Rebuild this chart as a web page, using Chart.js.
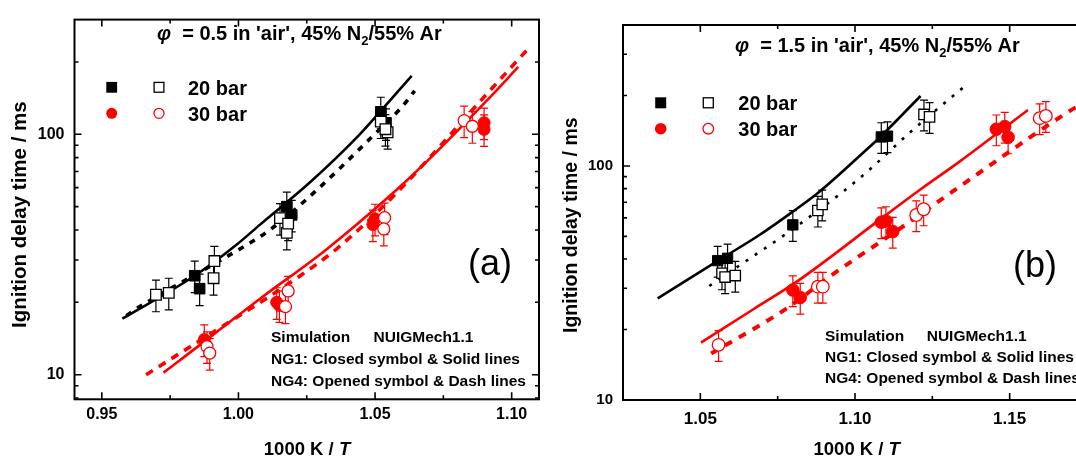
<!DOCTYPE html>
<html>
<head>
<meta charset="utf-8">
<title>Ignition delay time</title>
<script src="https://cdn.jsdelivr.net/npm/chart.js@4.4.1/dist/chart.umd.min.js"></script>
<style>
    html, body { margin: 0; padding: 0; background: #ffffff; overflow: hidden; }
    body { width: 1076px; height: 457px; position: relative; }
    canvas { position: absolute; top: 0; }
    #grafica_a { left: 0; }
    #grafica_b { left: 555px; }
</style>
</head>
<body>
<canvas id="grafica_a" width="555" height="457"></canvas>
<canvas id="grafica_b" width="545" height="457"></canvas>
<script>
var FAMILIA = '"Liberation Sans", Arial, Helvetica, sans-serif';
var ERROR_REL = 0.15;

// ---- panel (a), phi = 0.5 ----
var a_x_ticks = [0.95, 1.00, 1.05, 1.10];
var a_x_menores = [0.975, 1.025, 1.075];
var a_y_ticks = [10, 100];
var a_y_menores = [8, 9, 20, 30, 40, 50, 60, 70, 80, 90, 200];

// simulacion NUIGMech1.1 [1000K/T, ms]
var a_ng1_20bar_sim = [[0.9575, 17.1], [0.984, 25.8], [0.9994, 34.8], [1.0079, 42.1], [1.0261, 63.0], [1.0444, 100], [1.0559, 140], [1.0634, 175]];
var a_ng4_20bar_sim = [[0.959, 17.6], [0.9636, 19.1], [0.9958, 31.0], [1.0116, 40.1], [1.028, 57.7], [1.0486, 96.9], [1.0595, 128.7], [1.0645, 151.5]];
var a_ng1_30bar_sim = [[0.9726, 10.2], [0.9782, 11.4], [1.0079, 20.7], [1.0322, 33.2], [1.0577, 58.5], [1.068, 75.3], [1.0929, 146], [1.1024, 190.6]];
var a_ng4_30bar_sim = [[0.9662, 10.0], [0.9825, 13.1], [1.000, 17.5], [1.020, 24.6], [1.0364, 33.7], [1.0577, 56.8], [1.0911, 148], [1.1065, 230]];

// experimentos
var a_ng1_20bar_exp = [[0.9840, 25.8], [0.9858, 22.8], [1.0177, 50.0], [1.0195, 46.2], [1.0521, 124], [1.0540, 111]];
var a_ng4_20bar_exp = [[0.9698, 21.5], [0.9745, 21.9], [0.9912, 29.7], [0.9909, 25.2], [1.0152, 44.8], [1.0177, 38.9], [1.0182, 42.5], [1.0521, 113], [1.0546, 102], [1.0538, 105]];
var a_ng1_30bar_exp = [[0.9875, 14.0], [1.0140, 20.0], [1.0150, 19.4], [1.0492, 42.1], [1.0500, 44.5], [1.0899, 111.7], [1.0899, 104.8]];
var a_ng4_30bar_exp = [[0.9885, 13.1], [0.9895, 12.3], [1.0182, 22.3], [1.0172, 19.2], [1.0535, 45.0], [1.0532, 40.4], [1.0826, 114], [1.0856, 108]];

// ---- panel (b), phi = 1.5 ----
var b_x_ticks = [1.05, 1.10, 1.15];
var b_x_menores = [1.075, 1.125];
var b_y_ticks = [10, 100];
var b_y_menores = [20, 30, 40, 50, 60, 70, 80, 90, 200, 300];

var b_ng1_20bar_sim = [[1.0362, 27.2], [1.0556, 39.3], [1.0691, 50.7], [1.0799, 63.8], [1.0885, 77.6], [1.1036, 117], [1.1079, 132], [1.1212, 199]];
var b_ng4_20bar_sim = [[1.0529, 30.7], [1.0669, 41.0], [1.0772, 50.7], [1.1015, 88.6], [1.1187, 142.6], [1.1365, 225]];
var b_ng1_30bar_sim = [[1.0502, 17.6], [1.0669, 24.3], [1.082, 32.6], [1.1079, 58.8], [1.1209, 78.9], [1.1338, 104.3], [1.1559, 173.5]];
var b_ng4_30bar_sim = [[1.0535, 15.8], [1.0777, 24.5], [1.0917, 33.6], [1.1155, 55.1], [1.1338, 81.6], [1.1683, 168], [1.175, 190]];

var b_ng1_20bar_exp = [[1.0556, 39.4], [1.0588, 40.3], [1.0799, 56.0], [1.1085, 133], [1.1105, 134]];
var b_ng4_20bar_exp = [[1.0570, 34.8], [1.0580, 33.5], [1.0613, 34.0], [1.0880, 64.5], [1.0894, 68.5], [1.1223, 166], [1.1241, 162]];
var b_ng1_30bar_exp = [[1.0799, 29.5], [1.0823, 27.4], [1.1085, 57.5], [1.1100, 58.2], [1.1122, 52.4], [1.1457, 143.5], [1.1484, 147.2], [1.1495, 132.6]];
var b_ng4_30bar_exp = [[1.0559, 17.2], [1.0880, 30.5], [1.0896, 30.5], [1.1198, 61.7], [1.1222, 65.3], [1.1597, 160], [1.1617, 163.6]];

Chart.defaults.font.family = FAMILIA;
Chart.defaults.font.weight = 'bold';
Chart.defaults.color = '#000000';

function puntos(pares) {
    return pares.map(function (p) { return { x: p[0], y: p[1] }; });
}

function serieLinea(pares, color, ancho, guiones) {
    return {
        data: puntos(pares),
        showLine: true,
        borderColor: color,
        borderWidth: ancho,
        borderDash: guiones,
        borderCapStyle: 'butt',
        cubicInterpolationMode: 'monotone',
        pointRadius: 0,
        pointHoverRadius: 0,
        fill: false,
        order: 3
    };
}

function serieSimbolos(pares, color, forma, radio, abierto) {
    return {
        data: puntos(pares),
        showLine: false,
        pointStyle: forma,
        pointRadius: radio,
        pointHoverRadius: radio,
        borderColor: color,
        pointBorderColor: color,
        pointBackgroundColor: abierto ? '#ffffff' : color,
        pointBorderWidth: abierto ? 1.3 : 1,
        errFrac: ERROR_REL,
        order: abierto ? 1 : 2
    };
}

// barras de error verticales (relativas)
var barrasError = {
    id: 'barrasError',
    beforeDatasetsDraw: function (chart) {
        var ctx = chart.ctx, xs = chart.scales.x, ys = chart.scales.y, a = chart.chartArea;
        ctx.save();
        ctx.beginPath();
        ctx.rect(a.left, a.top, a.right - a.left, a.bottom - a.top);
        ctx.clip();
        chart.data.datasets.forEach(function (ds) {
            if (!ds.errFrac) return;
            ctx.strokeStyle = ds.borderColor;
            ctx.lineWidth = 1.2;
            ds.data.forEach(function (p) {
                var px = xs.getPixelForValue(p.x);
                var arriba = ys.getPixelForValue(p.y * (1 + ds.errFrac));
                var abajo = ys.getPixelForValue(p.y * (1 - ds.errFrac));
                ctx.beginPath();
                ctx.moveTo(px, arriba); ctx.lineTo(px, abajo);
                ctx.moveTo(px - 4, arriba); ctx.lineTo(px + 4, arriba);
                ctx.moveTo(px - 4, abajo); ctx.lineTo(px + 4, abajo);
                ctx.stroke();
            });
        });
        ctx.restore();
    }
};

// marco con marcas hacia dentro en los cuatro lados
var marco = {
    id: 'marco',
    afterDraw: function (chart, args, o) {
        var ctx = chart.ctx, a = chart.chartArea, xs = chart.scales.x, ys = chart.scales.y;
        ctx.save();
        ctx.strokeStyle = '#000000';
        ctx.lineWidth = 2;
        ctx.strokeRect(a.left, a.top, a.right - a.left, a.bottom - a.top);
        ctx.lineWidth = 1.6;
        function marcaX(v, largo) {
            var px = xs.getPixelForValue(v);
            ctx.beginPath();
            ctx.moveTo(px, a.bottom); ctx.lineTo(px, a.bottom - largo);
            ctx.moveTo(px, a.top); ctx.lineTo(px, a.top + largo);
            ctx.stroke();
        }
        function marcaY(v, largo) {
            var py = ys.getPixelForValue(v);
            ctx.beginPath();
            ctx.moveTo(a.left, py); ctx.lineTo(a.left + largo, py);
            ctx.moveTo(a.right, py); ctx.lineTo(a.right - largo, py);
            ctx.stroke();
        }
        o.xMayores.forEach(function (v) { marcaX(v, 7); });
        o.xMenores.forEach(function (v) { marcaX(v, 4); });
        o.yMayores.forEach(function (v) { marcaY(v, 7); });
        o.yMenores.forEach(function (v) { marcaY(v, 4); });
        ctx.restore();
    }
};

function escribirTramos(ctx, x, y, tramos, tam) {
    tramos.forEach(function (t) {
        var fs = t.sub ? tam * 0.65 : tam;
        ctx.font = (t.italic ? 'italic ' : '') + 'bold ' + fs + 'px ' + FAMILIA;
        ctx.fillText(t.texto, x, t.sub ? y + tam * 0.25 : y);
        x += ctx.measureText(t.texto).width;
    });
    return x;
}

function anchoTramos(ctx, tramos, tam) {
    var w = 0;
    tramos.forEach(function (t) {
        var fs = t.sub ? tam * 0.65 : tam;
        ctx.font = (t.italic ? 'italic ' : '') + 'bold ' + fs + 'px ' + FAMILIA;
        w += ctx.measureText(t.texto).width;
    });
    return w;
}

var textos = {
    id: 'textos',
    afterDraw: function (chart, args, o) {
        var ctx = chart.ctx;
        ctx.save();
        ctx.fillStyle = '#000000';
        ctx.textBaseline = 'alphabetic';
        ctx.textAlign = 'left';

        // titulo
        escribirTramos(ctx, o.titulo.x, o.titulo.y, [
            { texto: 'φ', italic: true },
            { texto: '  = ' + o.titulo.valor + " in 'air', 45% N" },
            { texto: '2', sub: true },
            { texto: '/55% Ar' }
        ], o.titulo.tam);

        // leyenda
        var l = o.leyenda, m = l.lado / 2;
        ctx.fillStyle = '#000000';
        ctx.fillRect(l.xCerrado - m, l.y20 - m, l.lado, l.lado);
        ctx.strokeStyle = '#000000';
        ctx.lineWidth = 1.3;
        ctx.strokeRect(l.xAbierto - m + 0.5, l.y20 - m + 0.5, l.lado - 1, l.lado - 1);
        ctx.fillStyle = '#ff0000';
        ctx.beginPath(); ctx.arc(l.xCerrado, l.y30, l.radio, 0, Math.PI * 2); ctx.fill();
        ctx.strokeStyle = '#ff0000';
        ctx.beginPath(); ctx.arc(l.xAbierto, l.y30, l.radio - 0.5, 0, Math.PI * 2); ctx.stroke();
        ctx.fillStyle = '#000000';
        ctx.font = 'bold ' + l.tam + 'px ' + FAMILIA;
        ctx.fillText('20 bar', l.xTexto, l.y20 + l.tam * 0.36);
        ctx.fillText('30 bar', l.xTexto, l.y30 + l.tam * 0.36);

        // nota del mecanismo
        var n = o.nota;
        ctx.font = 'bold ' + n.tam + 'px ' + FAMILIA;
        ctx.fillText('Simulation', n.x, n.y[0]);
        ctx.fillText('NUIGMech1.1', n.x2, n.y[0]);
        ctx.fillText('NG1: Closed symbol & Solid lines', n.x, n.y[1]);
        ctx.fillText('NG4: Opened symbol & Dash lines', n.x, n.y[2]);

        // etiqueta del panel
        ctx.font = 'normal ' + o.panel.tam + 'px ' + FAMILIA;
        ctx.fillText(o.panel.texto, o.panel.x, o.panel.y);

        // titulo eje x
        var tx = [{ texto: '1000 K / ' }, { texto: 'T', italic: true }];
        var w = anchoTramos(ctx, tx, o.ejeX.tam);
        escribirTramos(ctx, o.ejeX.cx - w / 2, o.ejeX.y, tx, o.ejeX.tam);

        // titulo eje y
        ctx.save();
        ctx.translate(o.ejeY.cx + o.ejeY.tam * 0.36, o.ejeY.y0);
        ctx.rotate(-Math.PI / 2);
        ctx.font = 'bold ' + o.ejeY.tam + 'px ' + FAMILIA;
        ctx.fillText('Ignition delay time / ms', 0, 0);
        ctx.restore();

        ctx.restore();
    }
};

function crearGrafica(id, p) {
    var datasets = [
        serieLinea(p.sim1_20, '#000000', 2.6, []),
        serieLinea(p.sim4_20, '#000000', p.guionNegro.ancho, p.guionNegro.patron),
        serieLinea(p.sim1_30, '#ff0000', 2.6, []),
        serieLinea(p.sim4_30, '#ff0000', p.guionRojo.ancho, p.guionRojo.patron),
        serieSimbolos(p.exp1_20, '#000000', 'rect', p.radioCuadro, false),
        serieSimbolos(p.exp4_20, '#000000', 'rect', p.radioCuadro, true),
        serieSimbolos(p.exp1_30, '#ff0000', 'circle', p.radioCirculo, false),
        serieSimbolos(p.exp4_30, '#ff0000', 'circle', p.radioCirculo, true)
    ];
    var alto = 457;
    return new Chart(document.getElementById(id), {
        type: 'scatter',
        data: { datasets: datasets },
        options: {
            responsive: false,
            animation: false,
            devicePixelRatio: 1,
            layout: { padding: { left: 0, top: p.area.top, right: p.ancho - p.area.right, bottom: 0 } },
            plugins: {
                legend: { display: false },
                tooltip: { enabled: false },
                marco: { xMayores: p.xTicks, xMenores: p.xMenores, yMayores: p.yTicks, yMenores: p.yMenores },
                textos: p.textos
            },
            scales: {
                x: {
                    type: 'linear',
                    min: p.xMin,
                    max: p.xMax,
                    grid: { display: false, drawTicks: false },
                    border: { display: false },
                    ticks: {
                        padding: p.padX,
                        font: { size: p.fuenteX, weight: 'bold' },
                        callback: function (v) { return Number(v).toFixed(2); }
                    },
                    afterBuildTicks: function (s) { s.ticks = p.xTicks.map(function (v) { return { value: v }; }); },
                    afterFit: function (s) { s.height = alto - p.area.bottom; }
                },
                y: {
                    type: 'logarithmic',
                    min: p.yMin,
                    max: p.yMax,
                    grid: { display: false, drawTicks: false },
                    border: { display: false },
                    ticks: {
                        padding: 10,
                        font: { size: p.fuenteY, weight: 'bold' },
                        callback: function (v) { return String(v); }
                    },
                    afterBuildTicks: function (s) { s.ticks = p.yTicks.map(function (v) { return { value: v }; }); },
                    afterFit: function (s) { s.width = p.area.left; }
                }
            }
        },
        plugins: [barrasError, marco, textos]
    });
}

crearGrafica('grafica_a', {
    ancho: 555,
    area: { left: 74.5, top: 15, right: 539, bottom: 399.3 },
    xMin: 0.94, xMax: 1.11, yMin: 7.9, yMax: 300,
    xTicks: a_x_ticks, xMenores: a_x_menores, yTicks: a_y_ticks, yMenores: a_y_menores,
    fuenteX: 16, fuenteY: 16, padX: 6,
    sim1_20: a_ng1_20bar_sim, sim4_20: a_ng4_20bar_sim, sim1_30: a_ng1_30bar_sim, sim4_30: a_ng4_30bar_sim,
    exp1_20: a_ng1_20bar_exp, exp4_20: a_ng4_20bar_exp, exp1_30: a_ng1_30bar_exp, exp4_30: a_ng4_30bar_exp,
    guionNegro: { ancho: 3.6, patron: [6, 7] },
    guionRojo: { ancho: 3.6, patron: [8, 7] },
    radioCuadro: 7.5, radioCirculo: 6,
    textos: {
        titulo: { x: 157, y: 40, tam: 20, valor: '0.5' },
        leyenda: { xCerrado: 111.7, xAbierto: 159, xTexto: 188, y20: 87.3, y30: 113.3, lado: 10.8, radio: 5.5, tam: 20 },
        nota: { x: 271, x2: 373.5, y: [342.3, 363.5, 386.3], tam: 15.5 },
        panel: { texto: '(a)', x: 468, y: 275, tam: 36 },
        ejeX: { cx: 307, y: 455, tam: 18.5 },
        ejeY: { cx: 18.4, y0: 328, tam: 20.5 }
    }
});

crearGrafica('grafica_b', {
    ancho: 545,
    area: { left: 68, top: 25, right: 532, bottom: 400 },
    xMin: 1.025, xMax: 1.175, yMin: 10, yMax: 400,
    xTicks: b_x_ticks, xMenores: b_x_menores, yTicks: b_y_ticks, yMenores: b_y_menores,
    fuenteX: 17, fuenteY: 15, padX: 9,
    sim1_20: b_ng1_20bar_sim, sim4_20: b_ng4_20bar_sim, sim1_30: b_ng1_30bar_sim, sim4_30: b_ng4_30bar_sim,
    exp1_20: b_ng1_20bar_exp, exp4_20: b_ng4_20bar_exp, exp1_30: b_ng1_30bar_exp, exp4_30: b_ng4_30bar_exp,
    guionNegro: { ancho: 2.6, patron: [3, 8] },
    guionRojo: { ancho: 4, patron: [8, 8] },
    radioCuadro: 7.3, radioCirculo: 6.3,
    textos: {
        titulo: { x: 180, y: 52, tam: 20, valor: '1.5' },
        leyenda: { xCerrado: 105.7, xAbierto: 153.3, xTexto: 183.3, y20: 102.8, y30: 128.7, lado: 11, radio: 5.8, tam: 20 },
        nota: { x: 270, x2: 371.7, y: [341.3, 362.3, 383], tam: 15.5 },
        panel: { texto: '(b)', x: 458, y: 277, tam: 36 },
        ejeX: { cx: 301.7, y: 455, tam: 18.5 },
        ejeY: { cx: 15, y0: 333, tam: 19.5 }
    }
});
</script>
</body>
</html>
